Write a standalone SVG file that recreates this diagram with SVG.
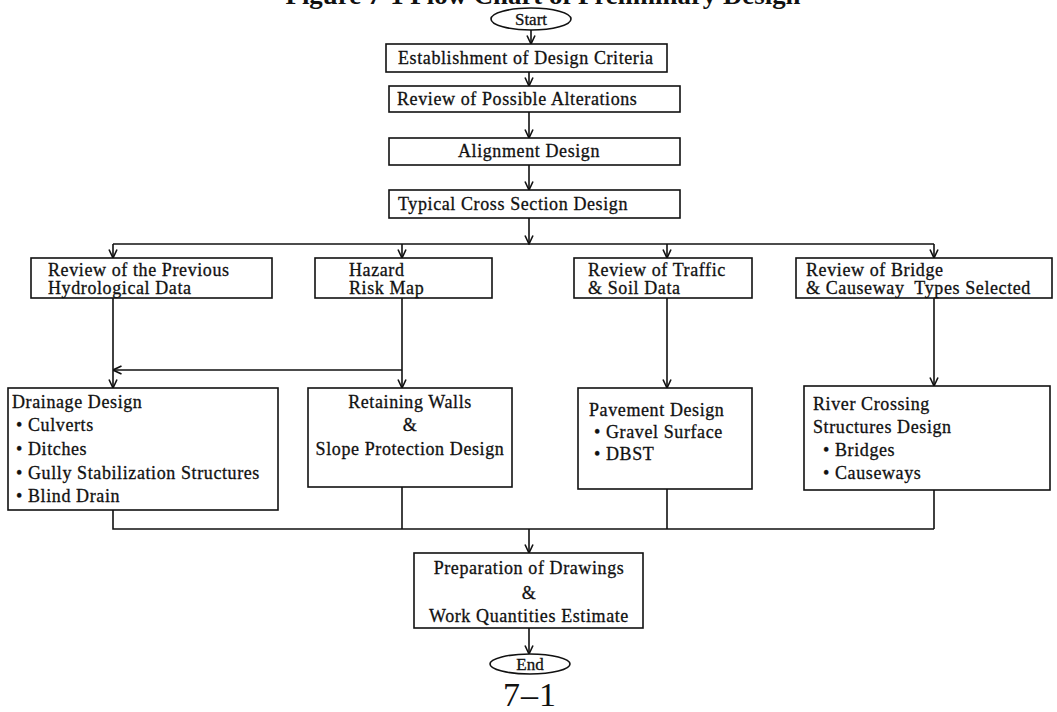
<svg xmlns="http://www.w3.org/2000/svg" width="1057" height="712" viewBox="0 0 1057 712">
  <style>
    .box { fill: #fff; stroke: #111; stroke-width: 1.6; }
    .term { fill: #fff; stroke: #111; stroke-width: 1.6; }
    .lbl { font-family: "Liberation Serif", "Times New Roman", serif; font-size: 18px; letter-spacing: 0.6px; fill: #111; stroke: #111; stroke-width: 0.3; }
    .mid { text-anchor: middle; }
    .title { font-family: "Liberation Serif", "Times New Roman", serif; font-size: 26px; font-weight: bold; fill: #111; }
    .page { font-family: "Liberation Serif", "Times New Roman", serif; font-size: 34px; letter-spacing: 1px; fill: #111; }
    .conn path { fill: none; stroke: #111; stroke-width: 1.6; }
  </style>
  <defs>
    <marker id="ah" viewBox="0 0 10 10" refX="9.5" refY="5" markerWidth="10" markerHeight="10" markerUnits="userSpaceOnUse" orient="auto">
      <path d="M1,1 L9.5,5 L1,9" fill="none" stroke="#111" stroke-width="1.6"/>
    </marker>
  </defs>
  <rect width="1057" height="712" fill="#fff"/>

  <!-- heading, cut off at the top edge -->
  <text class="title mid" x="543" y="4" textLength="515" lengthAdjust="spacingAndGlyphs">Figure 7-1 Flow Chart of Preliminary Design</text>

  <!-- connectors -->
  <g id="connectors" class="conn">
    <path d="M531,30 V44" marker-end="url(#ah)"/>
    <path d="M529,72 V86" marker-end="url(#ah)"/>
    <path d="M529,112 V138" marker-end="url(#ah)"/>
    <path d="M529,165 V190" marker-end="url(#ah)"/>
    <path d="M529,218 V244" marker-end="url(#ah)"/>
    <path d="M113,244 H934"/>
    <path d="M113,244 V258" marker-end="url(#ah)"/>
    <path d="M402,244 V258" marker-end="url(#ah)"/>
    <path d="M667,244 V258" marker-end="url(#ah)"/>
    <path d="M934,244 V258" marker-end="url(#ah)"/>
    <path d="M113,298 V388" marker-end="url(#ah)"/>
    <path d="M402,298 V388" marker-end="url(#ah)"/>
    <path d="M402,370 H113" marker-end="url(#ah)"/>
    <path d="M667,298 V388" marker-end="url(#ah)"/>
    <path d="M934,298 V386" marker-end="url(#ah)"/>
    <path d="M113,510 V529 H934"/>
    <path d="M402,487 V529"/>
    <path d="M667,489 V529"/>
    <path d="M934,490 V529"/>
    <path d="M529,529 V553" marker-end="url(#ah)"/>
    <path d="M529,628 V654" marker-end="url(#ah)"/>
  </g>

  <g id="start">
    <ellipse class="term" cx="531" cy="19" rx="40" ry="11"/>
    <text class="lbl mid" x="531" y="25" style="font-size:17px;letter-spacing:0">Start</text>
  </g>

  <g id="criteria">
    <rect class="box" x="386" y="44" width="281" height="28"/>
    <text class="lbl" x="398" y="64">Establishment of Design Criteria</text>
  </g>

  <g id="alterations">
    <rect class="box" x="389" y="86" width="291" height="26"/>
    <text class="lbl" x="397" y="105">Review of Possible Alterations</text>
  </g>

  <g id="alignment">
    <rect class="box" x="389" y="138" width="291" height="27"/>
    <text class="lbl mid" x="529" y="157">Alignment Design</text>
  </g>

  <g id="cross-section">
    <rect class="box" x="389" y="190" width="291" height="28"/>
    <text class="lbl" x="398" y="210">Typical Cross Section Design</text>
  </g>

  <g id="hydrological">
    <rect class="box" x="31" y="258" width="241" height="40"/>
    <text class="lbl" x="48" y="276">Review of the Previous</text>
    <text class="lbl" x="48" y="294">Hydrological Data</text>
  </g>

  <g id="hazard">
    <rect class="box" x="315" y="258" width="177" height="40"/>
    <text class="lbl" x="349" y="276">Hazard</text>
    <text class="lbl" x="349" y="294">Risk Map</text>
  </g>

  <g id="traffic-soil">
    <rect class="box" x="574" y="258" width="178" height="40"/>
    <text class="lbl" x="588" y="276">Review of Traffic</text>
    <text class="lbl" x="588" y="294">&amp; Soil Data</text>
  </g>

  <g id="bridge-causeway">
    <rect class="box" x="796" y="258" width="256" height="40"/>
    <text class="lbl" x="806" y="276">Review of Bridge</text>
    <text class="lbl" x="806" y="294" xml:space="preserve">&amp; Causeway  Types Selected</text>
  </g>

  <g id="drainage">
    <rect class="box" x="8" y="388" width="270" height="122"/>
    <text class="lbl" x="12" y="408">Drainage Design</text>
    <text class="lbl" x="16" y="431">• Culverts</text>
    <text class="lbl" x="16" y="455">• Ditches</text>
    <text class="lbl" x="16" y="479">• Gully Stabilization Structures</text>
    <text class="lbl" x="16" y="502">• Blind Drain</text>
  </g>

  <g id="retaining">
    <rect class="box" x="308" y="388" width="204" height="99"/>
    <text class="lbl mid" x="410" y="408">Retaining Walls</text>
    <text class="lbl mid" x="410" y="431">&amp;</text>
    <text class="lbl mid" x="410" y="455">Slope Protection Design</text>
  </g>

  <g id="pavement">
    <rect class="box" x="578" y="388" width="174" height="101"/>
    <text class="lbl" x="589" y="416">Pavement Design</text>
    <text class="lbl" x="594" y="438">• Gravel Surface</text>
    <text class="lbl" x="594" y="460">• DBST</text>
  </g>

  <g id="river-crossing">
    <rect class="box" x="804" y="386" width="246" height="104"/>
    <text class="lbl" x="813" y="410">River Crossing</text>
    <text class="lbl" x="813" y="433">Structures Design</text>
    <text class="lbl" x="823" y="456">• Bridges</text>
    <text class="lbl" x="823" y="479">• Causeways</text>
  </g>

  <g id="drawings">
    <rect class="box" x="414" y="553" width="229" height="75"/>
    <text class="lbl mid" x="529" y="574">Preparation of Drawings</text>
    <text class="lbl mid" x="529" y="599">&amp;</text>
    <text class="lbl mid" x="529" y="622">Work Quantities Estimate</text>
  </g>

  <g id="end">
    <ellipse class="term" cx="530" cy="664" rx="40" ry="10"/>
    <text class="lbl mid" x="530" y="670" style="font-size:17px;letter-spacing:0">End</text>
  </g>

  <text class="page mid" x="530" y="706">7–1</text>
</svg>
